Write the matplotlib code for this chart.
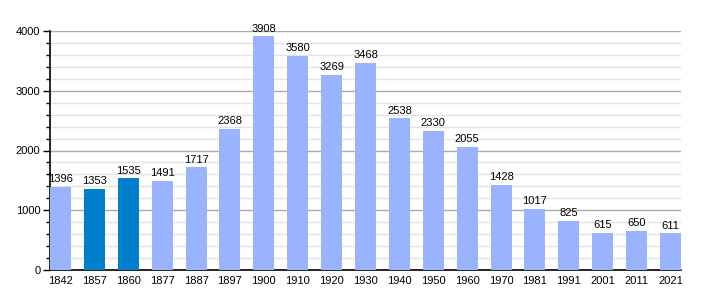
import matplotlib
matplotlib.use("Agg")
import matplotlib.pyplot as plt
from matplotlib.ticker import MultipleLocator

years = ["1842", "1857", "1860", "1877", "1887", "1897", "1900", "1910", "1920", "1930",
         "1940", "1950", "1960", "1970", "1981", "1991", "2001", "2011", "2021"]
population = [1396, 1353, 1535, 1491, 1717, 2368, 3908, 3580, 3269, 3468,
              2538, 2330, 2055, 1428, 1017, 825, 615, 650, 611]
highlight = ["1857", "1860"]

plt.rcParams['font.family'] = ['Liberation Sans', 'DejaVu Sans']

fig = plt.figure(figsize=(7.1, 3.0), dpi=100)
ax = fig.add_axes([50/710, 30/300, 631/710, 239/300])

light = "#99b3ff"
dark = "#0080cc"
colors = [dark if y in highlight else light for y in years]
x = list(range(len(years)))
w = 0.62
ax.bar(x, population, width=w, color=colors, zorder=3)
for xi, v in zip(x, population):
    ax.annotate(str(v), (xi, v), xytext=(0, 2), textcoords="offset points",
                ha="center", va="bottom", fontsize=8, color="#000000", zorder=4)

ax.set_xlim(-w/2, len(years) - 1 + w/2)
ax.set_ylim(0, 4000)
ax.set_xticks(x)
ax.set_xticklabels(years, fontsize=8)
ax.yaxis.set_major_locator(MultipleLocator(1000))
ax.yaxis.set_minor_locator(MultipleLocator(200))
ax.tick_params(axis='y', which='major', length=5, width=1, labelsize=8, pad=2)
ax.tick_params(axis='y', which='minor', length=3, width=1)
ax.tick_params(axis='x', length=0, pad=4)
ax.grid(axis='y', which='major', color='#aaaaaa', linewidth=1, zorder=0)
ax.grid(axis='y', which='minor', color='#e3e3e3', linewidth=1, zorder=0)
for s in ['top', 'right']:
    ax.spines[s].set_visible(False)
ax.spines['left'].set_linewidth(1.2)
ax.spines['bottom'].set_linewidth(1.2)
ax.set_axisbelow(True)

fig.savefig("out.png", dpi=100)
